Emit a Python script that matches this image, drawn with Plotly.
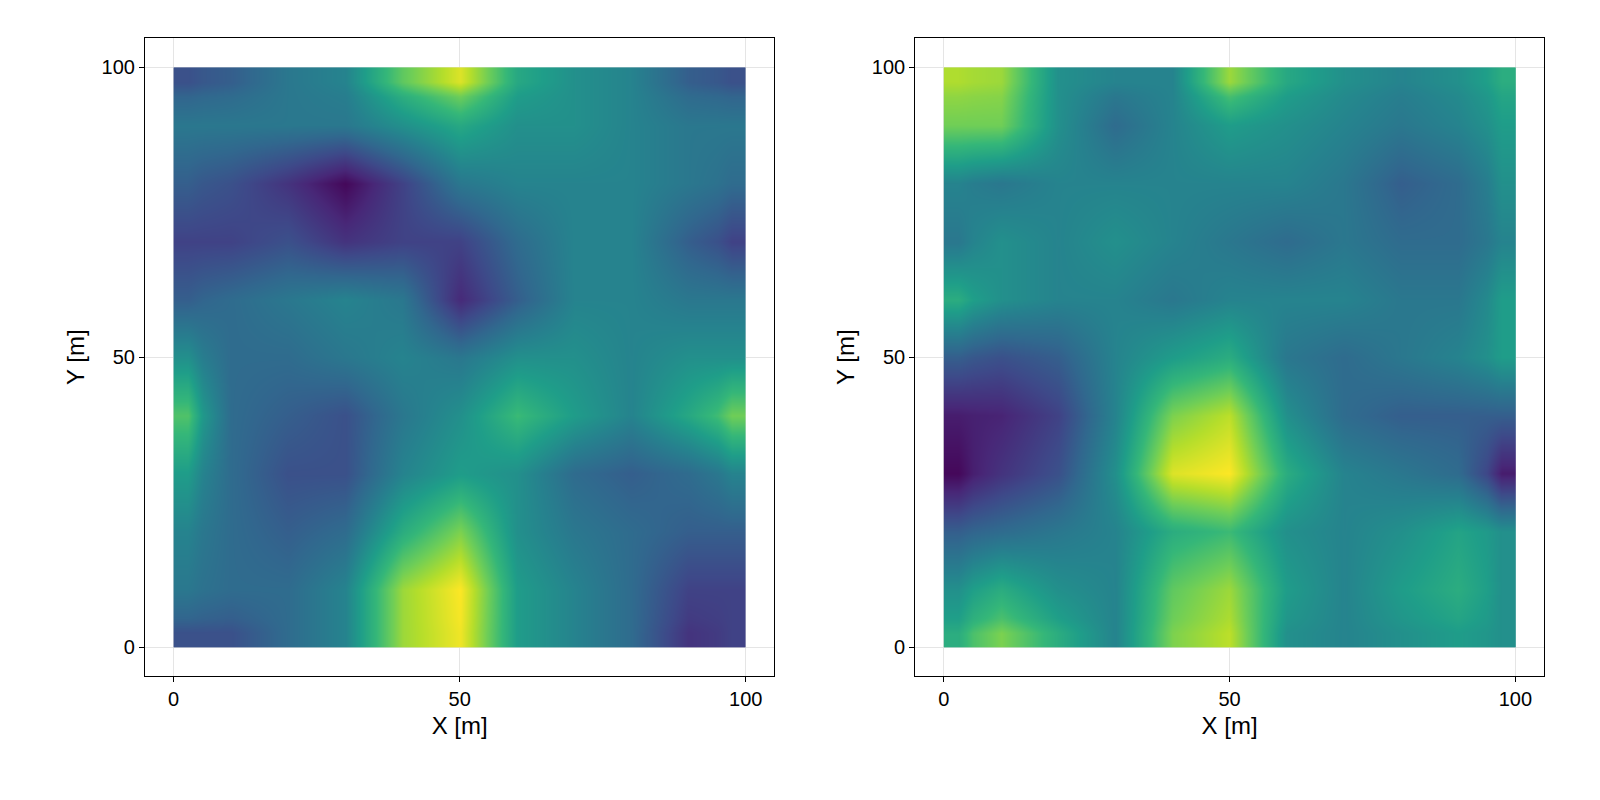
import plotly.graph_objects as go
from plotly.subplots import make_subplots

# grid coordinates (m)
xs = [0, 10, 20, 30, 40, 50, 60, 70, 80, 90, 100]
ys = [0, 10, 20, 30, 40, 50, 60, 70, 80, 90, 100]

# field values, rows from y=100 down to y=0
left_rows = [
    [0.25, 0.30, 0.40, 0.45, 0.75, 0.95, 0.60, 0.50, 0.45, 0.30, 0.25],
    [0.40, 0.40, 0.40, 0.40, 0.50, 0.60, 0.50, 0.50, 0.45, 0.40, 0.40],
    [0.30, 0.25, 0.15, 0.02, 0.20, 0.40, 0.45, 0.45, 0.45, 0.40, 0.35],
    [0.20, 0.20, 0.25, 0.15, 0.20, 0.20, 0.35, 0.45, 0.45, 0.30, 0.20],
    [0.30, 0.35, 0.40, 0.45, 0.40, 0.12, 0.30, 0.45, 0.45, 0.40, 0.40],
    [0.50, 0.35, 0.35, 0.40, 0.45, 0.40, 0.50, 0.50, 0.45, 0.50, 0.50],
    [0.72, 0.35, 0.30, 0.25, 0.40, 0.50, 0.68, 0.55, 0.45, 0.60, 0.78],
    [0.55, 0.35, 0.25, 0.25, 0.45, 0.55, 0.50, 0.35, 0.30, 0.35, 0.45],
    [0.45, 0.35, 0.30, 0.35, 0.62, 0.80, 0.50, 0.40, 0.35, 0.30, 0.30],
    [0.40, 0.35, 0.35, 0.45, 0.85, 1.00, 0.55, 0.45, 0.35, 0.20, 0.20],
    [0.25, 0.25, 0.35, 0.45, 0.85, 0.98, 0.55, 0.45, 0.35, 0.15, 0.20],
]
right_rows = [
    [0.88, 0.85, 0.50, 0.45, 0.45, 0.85, 0.60, 0.50, 0.45, 0.50, 0.62],
    [0.78, 0.78, 0.50, 0.35, 0.45, 0.55, 0.50, 0.45, 0.40, 0.45, 0.55],
    [0.45, 0.40, 0.45, 0.45, 0.45, 0.45, 0.45, 0.40, 0.30, 0.35, 0.50],
    [0.40, 0.50, 0.45, 0.50, 0.45, 0.40, 0.35, 0.40, 0.35, 0.35, 0.45],
    [0.62, 0.50, 0.45, 0.45, 0.40, 0.45, 0.45, 0.45, 0.40, 0.40, 0.55],
    [0.30, 0.25, 0.30, 0.45, 0.55, 0.62, 0.40, 0.35, 0.40, 0.45, 0.55],
    [0.08, 0.10, 0.20, 0.45, 0.80, 0.90, 0.50, 0.35, 0.30, 0.30, 0.30],
    [0.02, 0.15, 0.25, 0.50, 0.95, 1.00, 0.62, 0.45, 0.40, 0.35, 0.08],
    [0.30, 0.35, 0.40, 0.45, 0.62, 0.68, 0.50, 0.45, 0.50, 0.58, 0.50],
    [0.50, 0.62, 0.50, 0.45, 0.75, 0.85, 0.55, 0.45, 0.55, 0.62, 0.50],
    [0.62, 0.80, 0.62, 0.45, 0.80, 0.90, 0.50, 0.45, 0.50, 0.55, 0.50],
]


def edges(c):
    # cell edges so the field covers exactly the data range
    return [c[0]] + [(a + b) / 2 for a, b in zip(c[:-1], c[1:])] + [c[-1]]


fig = make_subplots(rows=1, cols=2)
for i, rows in enumerate([left_rows, right_rows]):
    fig.add_trace(go.Heatmap(x=edges(xs), y=edges(ys), z=rows[::-1],
                             colorscale="Viridis", zmin=0, zmax=1,
                             zsmooth="best", showscale=False),
                  row=1, col=i + 1)

axis_style = dict(range=[-5, 105], tickvals=[0, 50, 100], showgrid=True,
                  gridcolor="#e5e5e5", zeroline=False, showline=True,
                  linecolor="black", mirror=True, ticks="outside",
                  ticklen=5, tickcolor="black")
fig.update_xaxes(**axis_style, title_text="X [m]", title_standoff=8)
fig.update_yaxes(**axis_style, title_text="Y [m]", title_standoff=10)
fig.update_layout(
    width=1600, height=800,
    margin=dict(l=0, r=0, t=0, b=0),
    plot_bgcolor="white", paper_bgcolor="white",
    font=dict(family="Liberation Sans", size=20, color="black"),
    xaxis=dict(domain=[0.0856, 0.479]),
    xaxis2=dict(domain=[0.567, 0.96]),
    yaxis=dict(domain=[0.165, 0.962]),
    yaxis2=dict(domain=[0.165, 0.962]),
)
fig.write_html("out.html")
